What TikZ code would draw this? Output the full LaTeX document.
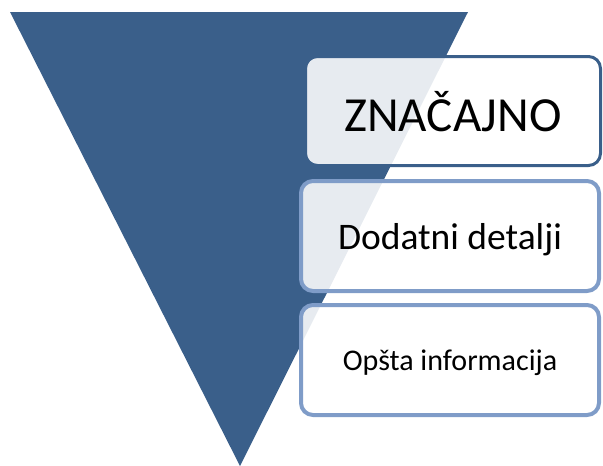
\documentclass[tikz,border=0pt]{standalone}
\usepackage{fontspec}
\setmainfont{Carlito}
\definecolor{funnelblue}{HTML}{3A5F8A}
\definecolor{edgeblue}{HTML}{7F9CC8}
\begin{document}
\begin{tikzpicture}[x=1pt,y=-1pt]
\tikzstyle{level}=[rounded corners=12pt, fill=white, fill opacity=0.88, text opacity=1, inner sep=0pt, text depth=0pt]
\tikzstyle{lower}=[level, draw=edgeblue, line width=4pt, minimum width=298pt, minimum height=110pt]
\useasboundingbox (0,0) rectangle (603,466);
\coordinate (tl) at (10,12);
\coordinate (tr) at (468,12);
\coordinate (tip) at (240,466);
\fill [funnelblue] (tl) -- (tr) -- (tip) -- cycle;
\node [level, draw=funnelblue, line width=3pt, minimum width=295pt, minimum height=109pt] (znacajno) at (453,111) {\fontsize{49}{53}\selectfont ZNAČAJNO};
\node [lower] (detalji) at (450,236) {\fontsize{37.5}{41}\selectfont Dodatni detalji};
\node [lower] (opsta) at (450,360) {\fontsize{30}{34}\selectfont Opšta informacija};
\end{tikzpicture}
\end{document}
